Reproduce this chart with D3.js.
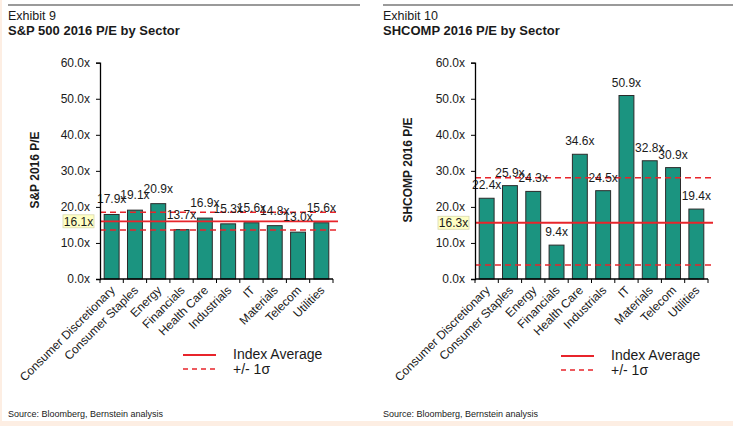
<!DOCTYPE html>
<html><head><meta charset="utf-8">
<script src="https://cdn.jsdelivr.net/npm/d3@7"></script>
<style>
html,body{margin:0;padding:0;background:#fff;}
text{font-family:"Liberation Sans",Arial,sans-serif;fill:#1a1a1a;}
</style></head>
<body>
<svg id="c" width="733" height="426"></svg>
<script>
const categories = ["Consumer Discretionary","Consumer Staples","Energy","Financials","Health Care","Industrials","IT","Materials","Telecom","Utilities"];
const spValues = [17.9,19.1,20.9,13.7,16.9,15.3,15.6,14.8,13.0,15.6];
const shValues = [22.4,25.9,24.3,9.4,34.6,24.5,50.9,32.8,30.9,19.4];
const yTicks = [0,10,20,30,40,50,60];
const spAverage = 16.0, spAverageLabel = "16.1x", spBand = [13.6,18.5];
const shAverage = 15.6, shAverageLabel = "16.3x", shBand = [3.9,28.1];
const exhibits = ["Exhibit 9","Exhibit 10"];
const titles = ["S&P 500 2016 P/E by Sector","SHCOMP 2016 P/E by Sector"];
const yTitles = ["S&P 2016 P/E","SHCOMP 2016 P/E"];
const legendLabels = ["Index Average","+/- 1σ"];
const sourceText = "Source: Bloomberg, Bernstein analysis";

const svg = d3.select("#c");
const RED = "#e8242b", TEAL = "#1b9480";
svg.append("rect").attr("x",0).attr("y",421).attr("width",733).attr("height",5).attr("fill","#fdeee3");
svg.append("rect").attr("x",0).attr("y",0).attr("width",2).attr("height",426).attr("fill","#fdeee3");

function chart(cfg){
  const g = svg.append("g");
  g.append("line").attr("x1",cfg.ox).attr("x2",cfg.lineEnd).attr("y1",5).attr("y2",5).attr("stroke","#9a9a9a").attr("stroke-width",2);
  g.append("text").attr("x",cfg.ox).attr("y",20).attr("font-size",12.5).text(cfg.exhibit);
  g.append("text").attr("x",cfg.ox).attr("y",35).attr("font-size",13).attr("font-weight","bold").text(cfg.title);

  const x = d3.scaleBand().domain(categories).range([cfg.x0,cfg.x1]).paddingInner(0.36).paddingOuter(0.18);
  const y = d3.scaleLinear().domain([0,60]).range([279,62.7]);

  g.selectAll("rect.bar").data(cfg.values).join("rect").attr("class","bar")
    .attr("x",(d,i)=>x(categories[i])).attr("width",x.bandwidth())
    .attr("y",d=>y(d)).attr("height",d=>y(0)-y(d))
    .attr("fill",TEAL).attr("stroke","#2b2b2b").attr("stroke-width",1);

  const lx1 = cfg.x1+5;
  g.append("line").attr("x1",cfg.x0).attr("x2",lx1).attr("y1",y(cfg.avg)).attr("y2",y(cfg.avg)).attr("stroke",RED).attr("stroke-width",1.8);
  cfg.band.forEach(v=>{
    g.append("line").attr("x1",cfg.x0).attr("x2",lx1).attr("y1",y(v)).attr("y2",y(v)).attr("stroke",RED).attr("stroke-width",1.6).attr("stroke-dasharray","6,4");
  });

  g.selectAll("text.val").data(cfg.values).join("text").attr("class","val")
    .attr("x",(d,i)=>x(categories[i])+x.bandwidth()/2).attr("y",d=>y(d)-cfg.labOff)
    .attr("text-anchor","middle").attr("font-size",12).text(d=>d.toFixed(1)+"x");

  const ya = g.append("g").attr("transform",`translate(${cfg.x0},0)`)
    .call(d3.axisLeft(y).tickValues(yTicks).tickSize(4).tickPadding(6).tickFormat(d=>d.toFixed(1)+"x"));
  ya.select(".domain").attr("stroke","#000").attr("stroke-width",1.3);
  ya.selectAll(".tick line").attr("stroke","#000");
  ya.selectAll(".tick text").attr("font-size",12).attr("fill","#333").style("font-family","Liberation Sans, Arial, sans-serif");

  const bounds = d3.range(categories.length+1).map(i=>cfg.x0 + i*x.step());
  g.append("line").attr("x1",cfg.x0).attr("x2",cfg.x1).attr("y1",y(0)).attr("y2",y(0)).attr("stroke","#000").attr("stroke-width",1.3);
  g.selectAll("line.xt").data(bounds).join("line").attr("class","xt")
    .attr("x1",d=>d).attr("x2",d=>d).attr("y1",y(0)).attr("y2",y(0)+4).attr("stroke","#000");
  g.selectAll("text.cat").data(categories).join("text").attr("class","cat")
    .attr("transform",d=>`translate(${x(d)+x.bandwidth()/2+4},${y(0)+12}) rotate(-45)`)
    .attr("text-anchor","end").attr("font-size",12).attr("fill","#222").text(d=>d);

  const bw=31,bh=13;
  g.append("rect").attr("x",cfg.x0-37).attr("y",y(cfg.avg)-bh/2).attr("width",bw).attr("height",bh)
    .attr("fill","#ffffc4").attr("stroke","#d8d8b0").attr("stroke-width",0.8);
  g.append("text").attr("x",cfg.x0-37+bw/2).attr("y",y(cfg.avg)+4.3).attr("text-anchor","middle").attr("font-size",12).text(cfg.avgLabel);

  g.append("text").attr("transform",`translate(${cfg.ytx},170) rotate(-90)`).attr("text-anchor","middle")
    .attr("font-size",12).attr("font-weight","bold").text(cfg.yTitle);

  g.append("line").attr("x1",cfg.lg).attr("x2",cfg.lg+33).attr("y1",cfg.ly1).attr("y2",cfg.ly1).attr("stroke",RED).attr("stroke-width",2);
  g.append("line").attr("x1",cfg.lg).attr("x2",cfg.lg+33).attr("y1",cfg.ly2).attr("y2",cfg.ly2).attr("stroke",RED).attr("stroke-width",1.4).attr("stroke-dasharray","5,4");
  g.append("text").attr("x",cfg.lg+50).attr("y",cfg.ly1+4).attr("font-size",14).text(legendLabels[0]);
  g.append("text").attr("x",cfg.lg+50).attr("y",cfg.ly2+5).attr("font-size",14).text(legendLabels[1]);

  g.append("text").attr("x",cfg.ox).attr("y",417).attr("font-size",9).attr("fill","#333").text(sourceText);
}

chart({ox:8,lineEnd:360,exhibit:exhibits[0],title:titles[0],x0:100,x1:333,values:spValues,avg:spAverage,avgLabel:spAverageLabel,band:spBand,yTitle:yTitles[0],ytx:39,lg:183,ly1:355,ly2:369,labOff:11});
chart({ox:383,lineEnd:733,exhibit:exhibits[1],title:titles[1],x0:475,x1:708,values:shValues,avg:shAverage,avgLabel:shAverageLabel,band:shBand,yTitle:yTitles[1],ytx:412,lg:561,ly1:356,ly2:370,labOff:9});
</script>
</body></html>
